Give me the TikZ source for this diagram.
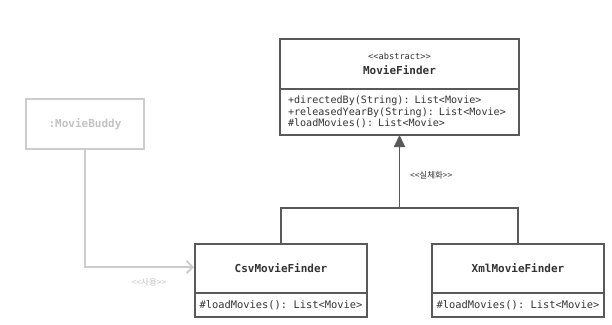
\documentclass[tikz,border=0pt]{standalone}
\usepackage{fontspec}
\setmonofont{DejaVu Sans Mono}
\newfontfamily\krfont{Noto Sans CJK KR}[Ligatures=TeXOff]
\usetikzlibrary{arrows.meta,shapes,positioning,calc}

\definecolor{umlline}{HTML}{595959}
\definecolor{umltext}{HTML}{333333}
\definecolor{umlfaint}{HTML}{CCCCCC}
\definecolor{umlfainttext}{HTML}{C2C2C2}

\begin{document}
\begin{tikzpicture}[
    x=1pt, y=-1pt,
    >=Stealth,
    node distance=0pt,
    classname/.style={draw=umlline, line width=1.6pt, rectangle,
        outer sep=0pt, inner sep=2pt,
        align=center, text=umltext,
        font=\ttfamily\bfseries\fontsize{11}{13}\selectfont},
    classops/.style={draw=umlline, line width=1.6pt, rectangle,
        outer sep=0pt, inner sep=4pt,
        text=umltext,
        font=\ttfamily\fontsize{10.4}{11.6}\selectfont},
    objbox/.style={draw=umlfaint, line width=1.6pt, rectangle,
        outer sep=0pt, minimum width=118pt, minimum height=50pt,
        text=umlfainttext,
        font=\ttfamily\bfseries\fontsize{11}{12}\selectfont},
    stereo/.style={font=\krfont\fontsize{8.5}{10}\selectfont},
    realize/.style={draw=umlline, line width=1.8pt},
    uses/.style={draw=umlfaint, line width=1.8pt}
]
\useasboundingbox (0,0) rectangle (612,324);

% abstract class
\node[classname, minimum width=239pt, minimum height=50pt] (MF) at (399.5,64)
    {{\mdseries\fontsize{8.7}{10}\selectfont <<abstract>>}\\[2pt] MovieFinder};
\node[classops, minimum width=239pt, minimum height=46pt,
      inner xsep=8pt, text width=223pt, align=left,
      font=\ttfamily\fontsize{10.1}{11.6}\selectfont, below=of MF] (MFops)
    {+directedBy(String): List<Movie>\\
     +releasedYearBy(String): List<Movie>\\
     \#loadMovies(): List<Movie>};

% client object
\node[objbox] (MB) at (85,124) {:MovieBuddy};

% concrete classes
\node[classname, minimum width=172pt, minimum height=49pt] (CSV) at (281,268.5)
    {CsvMovieFinder};
\node[classops, minimum width=172pt, minimum height=24pt, align=center,
      below=of CSV] (CSVops) {\#loadMovies(): List<Movie>};

\node[classname, minimum width=172pt, minimum height=49pt] (XML) at (518,268.5)
    {XmlMovieFinder};
\node[classops, minimum width=172pt, minimum height=24pt, align=center,
      below=of XML] (XMLops) {\#loadMovies(): List<Movie>};

% realization
\coordinate (fork) at ($(MFops.south)+(0,73)$);
\draw[realize] (CSV.north) |- (fork) -| (XML.north);
\draw[realize, -{Triangle[length=12pt, width=11pt]}] (fork) -- (MFops.south);
\node[stereo, text=umltext, anchor=west] (RL) at ($(fork)+(7,-33)$) {<<실체화>>};

% usage
\draw[uses, -{Straight Barb[length=6pt, width=12pt]}]
    (MB.south) |- ($(CSV.west)+(-1,-1.5)$);
\node[stereo, text=umlfainttext] (UL) at (149,282) {<<사용>>};

\end{tikzpicture}
\end{document}
